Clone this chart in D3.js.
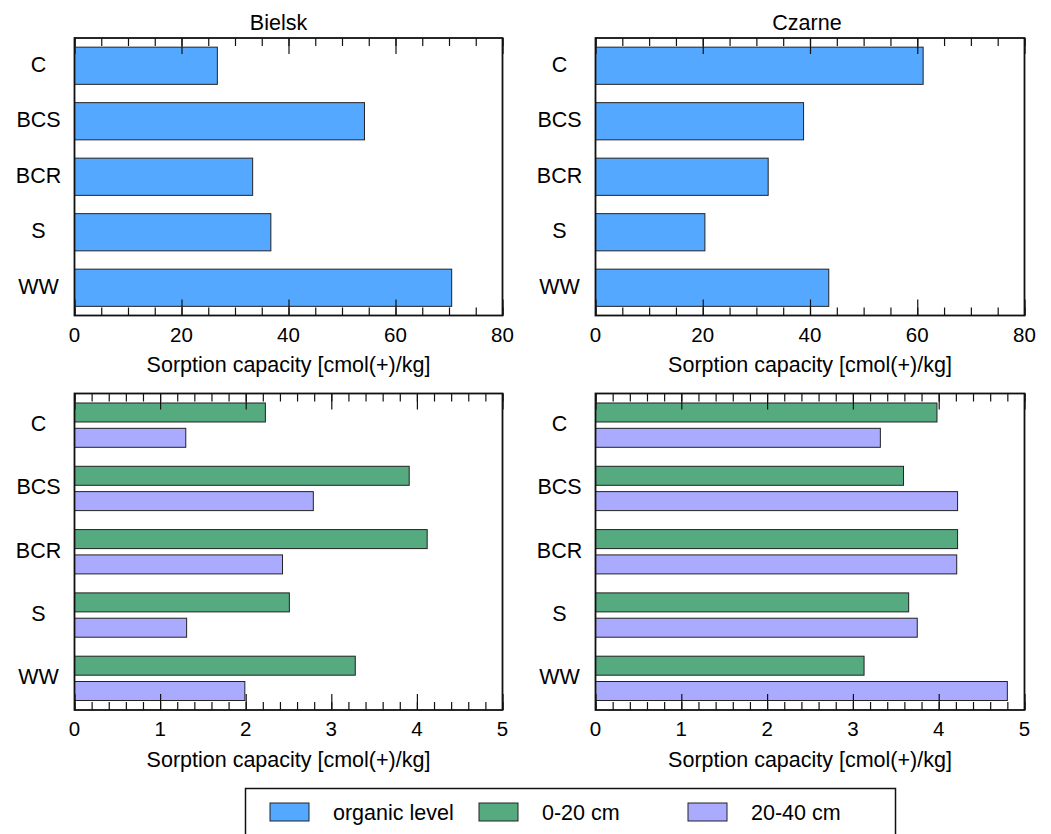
<!DOCTYPE html>
<head>
    <meta charset="utf-8">
    <style>
        body {
            margin: 0;
            background: #fff;
            font-family: Arial, "Liberation Sans", sans-serif;
        }
        text { fill: #000; }
        .frame { fill: none; stroke: #111; stroke-width: 1.8px; }
        .tick line { stroke: #111; stroke-width: 1.2px; }
        .bar { stroke: #222; stroke-width: 1px; }
    </style>
    <script src="https://d3js.org/d3.v7.min.js"></script>
</head>
<body>
    <script>
        // data
        const sites = ["Bielsk", "Czarne"];
        const treatments = ["C", "BCS", "BCR", "S", "WW"];
        const depths = ["0-20 cm", "20-40 cm"];

        const organicBielsk = [26.7, 54.2, 33.3, 36.7, 70.5];
        const organicCzarne = [61.1, 38.8, 32.2, 20.4, 43.5];

        const topsoilBielsk = [2.23, 3.91, 4.12, 2.51, 3.28];   // 0-20 cm
        const subsoilBielsk = [1.30, 2.79, 2.43, 1.31, 1.99];   // 20-40 cm
        const topsoilCzarne = [3.98, 3.59, 4.22, 3.65, 3.13];
        const subsoilCzarne = [3.32, 4.22, 4.21, 3.75, 4.80];

        const organicTicks = [0, 20, 40, 60, 80];
        const mineralTicks = [0, 1, 2, 3, 4, 5];
        const legendLabels = ["organic level", "0-20 cm", "20-40 cm"];
        const axisTitle = "Sorption capacity [cmol(+)/kg]";

        const colors = {
            "organic level": "#55A8FF",
            "0-20 cm": "#55AA80",
            "20-40 cm": "#AAAAFF"
        };

        const width = 1051, height = 834;

        const svg = d3.select("body").append("svg")
            .attr("width", width)
            .attr("height", height);

        // panel boxes
        const cols = [{ x0: 74.5, x1: 502.5, titleDx: -10 }, { x0: 595.5, x1: 1024.5, titleDx: -3 }];
        const rows = [{ y0: 38, y1: 315.5 }, { y0: 393.5, y1: 710 }];

        function drawPanel(col, row, opts) {
            const g = svg.append("g");

            const x = d3.scaleLinear()
                .domain([0, opts.max])
                .range([col.x0, col.x1]);

            const y = d3.scaleBand()
                .domain(treatments)
                .range([row.y0, row.y1])
                .paddingInner(opts.padInner)
                .paddingOuter(opts.padInner / 2);

            // bars
            if (opts.series.length === 1) {
                g.selectAll("rect.bar")
                    .data(opts.series[0].values)
                    .join("rect")
                    .attr("class", "bar")
                    .attr("x", x(0))
                    .attr("y", (d, i) => y(treatments[i]))
                    .attr("width", d => x(d) - x(0))
                    .attr("height", y.bandwidth())
                    .attr("fill", colors[opts.series[0].name]);
            } else {
                const y1 = d3.scaleBand()
                    .domain(opts.series.map(s => s.name))
                    .range([0, y.bandwidth()])
                    .paddingInner(0.25);
                opts.series.forEach(s => {
                    g.selectAll(null)
                        .data(s.values)
                        .join("rect")
                        .attr("class", "bar")
                        .attr("x", x(0))
                        .attr("y", (d, i) => y(treatments[i]) + y1(s.name))
                        .attr("width", d => x(d) - x(0))
                        .attr("height", y1.bandwidth())
                        .attr("fill", colors[s.name]);
                });
            }

            // ticks, inward on top and bottom
            const minor = d3.range(0, opts.max + 1e-9, opts.minorStep);
            const tickSets = [
                { vals: minor, size: -8 },
                { vals: opts.ticks, size: -16 }
            ];
            tickSets.forEach(t => {
                g.append("g")
                    .attr("transform", `translate(0,${row.y1})`)
                    .call(d3.axisBottom(x).tickValues(t.vals).tickSize(t.size).tickFormat(""))
                    .call(a => a.select(".domain").remove());
                g.append("g")
                    .attr("transform", `translate(0,${row.y0})`)
                    .call(d3.axisTop(x).tickValues(t.vals).tickSize(t.size).tickFormat(""))
                    .call(a => a.select(".domain").remove());
            });

            g.append("rect")
                .attr("class", "frame")
                .attr("x", col.x0)
                .attr("y", row.y0)
                .attr("width", col.x1 - col.x0)
                .attr("height", row.y1 - row.y0);

            // tick labels
            g.selectAll("text.tl")
                .data(opts.ticks)
                .join("text")
                .attr("class", "tl")
                .attr("x", d => x(d))
                .attr("y", row.y1 + 26)
                .attr("text-anchor", "middle")
                .style("font-size", "20.5px")
                .text(d => d);

            // category labels
            g.selectAll("text.cat")
                .data(treatments)
                .join("text")
                .attr("class", "cat")
                .attr("x", col.x0 - 36)
                .attr("y", d => y(d) + y.bandwidth() / 2 - 1.5)
                .attr("dy", "0.35em")
                .attr("text-anchor", "middle")
                .style("font-size", "21.5px")
                .text(d => d);

            // axis title
            g.append("text")
                .attr("x", (col.x0 + col.x1) / 2)
                .attr("y", row.y1 + 56.5)
                .attr("text-anchor", "middle")
                .style("font-size", "21.5px")
                .text(axisTitle);

            if (opts.title) {
                g.append("text")
                    .attr("x", (col.x0 + col.x1) / 2 + col.titleDx)
                    .attr("y", row.y0 - 8)
                    .attr("text-anchor", "middle")
                    .style("font-size", "21.5px")
                    .text(opts.title);
            }
        }

        drawPanel(cols[0], rows[0], {
            max: 80, ticks: organicTicks, minorStep: 5, padInner: 0.33, title: sites[0],
            series: [{ name: "organic level", values: organicBielsk }]
        });
        drawPanel(cols[1], rows[0], {
            max: 80, ticks: organicTicks, minorStep: 5, padInner: 0.33, title: sites[1],
            series: [{ name: "organic level", values: organicCzarne }]
        });
        drawPanel(cols[0], rows[1], {
            max: 5, ticks: mineralTicks, minorStep: 0.2, padInner: 0.3,
            series: [{ name: depths[0], values: topsoilBielsk }, { name: depths[1], values: subsoilBielsk }]
        });
        drawPanel(cols[1], rows[1], {
            max: 5, ticks: mineralTicks, minorStep: 0.2, padInner: 0.3,
            series: [{ name: depths[0], values: topsoilCzarne }, { name: depths[1], values: subsoilCzarne }]
        });

        // legend
        const legend = svg.append("g");
        legend.append("rect")
            .attr("x", 245.5)
            .attr("y", 788.5)
            .attr("width", 650)
            .attr("height", 70)
            .attr("fill", "none")
            .attr("stroke", "#111")
            .attr("stroke-width", 1.5);

        const lx = d3.scalePoint()
            .domain(legendLabels)
            .range([270, 688]);

        const item = legend.selectAll("g.item")
            .data(legendLabels)
            .join("g")
            .attr("class", "item")
            .attr("transform", d => `translate(${lx(d)},803)`);

        item.append("rect")
            .attr("class", "bar")
            .attr("width", 39)
            .attr("height", 18)
            .attr("fill", d => colors[d]);

        item.append("text")
            .attr("x", 63)
            .attr("y", 9)
            .attr("dy", "0.35em")
            .style("font-size", "21.5px")
            .text(d => d);
    </script>
</body>
